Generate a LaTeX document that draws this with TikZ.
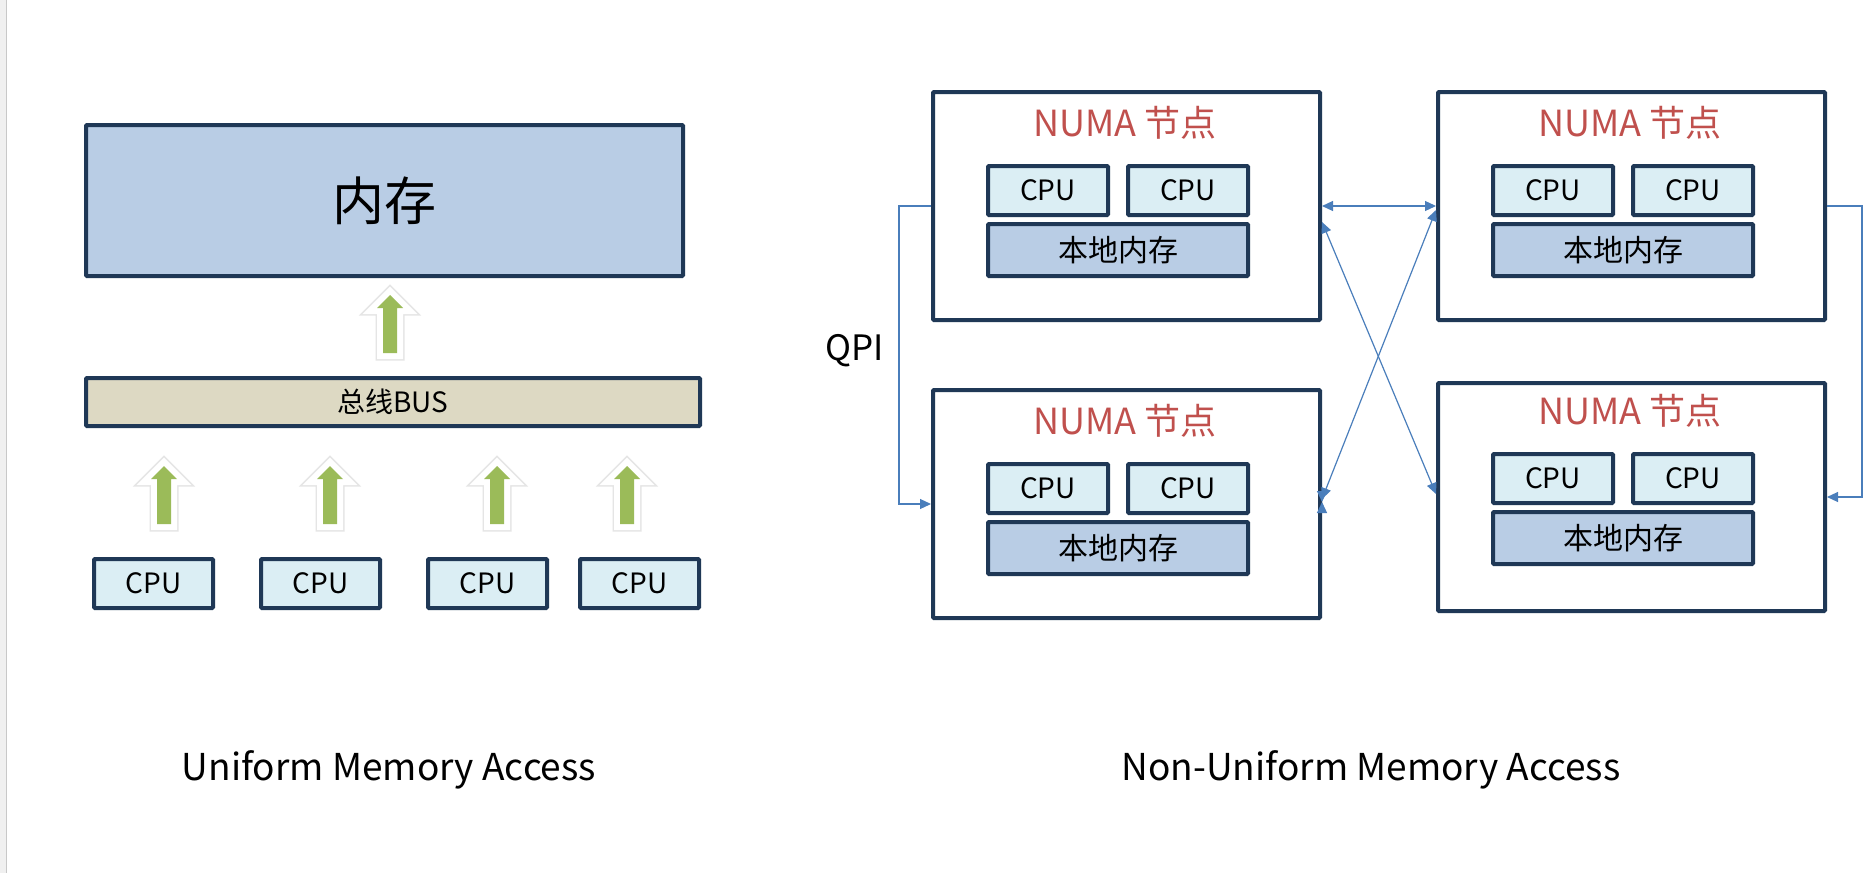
\documentclass[tikz,border=0pt]{standalone}
\usepackage{fontspec}
\setmainfont{Noto Sans CJK SC}
\usetikzlibrary{arrows.meta,calc}
\definecolor{navy}{HTML}{1F3856}
\definecolor{memblue}{HTML}{B9CDE5}
\definecolor{cpublue}{HTML}{DBEEF4}
\definecolor{busbeige}{HTML}{DDD9C3}
\definecolor{arrowgreen}{HTML}{9BBB59}
\definecolor{numared}{HTML}{C0504D}
\definecolor{linkblue}{HTML}{4A7EBB}
\definecolor{stripgray}{HTML}{F0F0F0}
\definecolor{stripline}{HTML}{C8C8C8}
\newcommand{\myfs}[1]{\fontsize{#1bp}{#1bp}\selectfont}
\begin{document}
\begin{tikzpicture}[x=1bp,y=-1bp,
  >={Triangle[length=11bp,width=10bp]},
  box/.style={draw=navy, line width=4bp, rounded corners=1bp, inner sep=0pt, anchor=north west},
  membox/.style={box, fill=memblue},
  cpubox/.style={box, fill=cpublue, font=\myfs{28}},
  busbox/.style={box, fill=busbeige, font=\myfs{28}},
  numabox/.style={box, fill=white},
  numatitle/.style={text=numared, font=\myfs{36}, inner sep=0pt},
  caption/.style={font=\myfs{37}, inner sep=0pt},
  link/.style={draw=linkblue, line width=1.2bp},
  uparrowpath/.style={insert path={(-7,0) -- (-7,-45) -- (-13,-45) -- (0,-58) -- (13,-45) -- (7,-45) -- (7,0) -- cycle}},
  greenup/.pic={
    \path[uparrowpath, draw=black!10, line width=15bp, shift={(1.5,3)}];
    \path[uparrowpath, draw=white, fill=white, line width=12bp];
    \path[uparrowpath, fill=arrowgreen];
  }]
\useasboundingbox (0,0) rectangle (1867,873);
\fill[white] (0,0) rectangle (1867,873);
\fill[stripgray] (0,0) rectangle (6,873);
\draw[stripline, line width=1.5bp] (6.5,0) -- (6.5,873);

% ---------- UMA ----------
\node[membox, minimum width=597bp, minimum height=151bp, font=\myfs{52}] (mem) at (84,123) {内存};
\pic at (390,353) {greenup};
\node[busbox, minimum width=614bp, minimum height=48bp] (bus) at (84,376) {总线BUS};
\foreach \i/\cx/\ax in {1/90/164,2/257/330,3/424/497,4/576/627}{
  \pic at (\ax,524) {greenup};
  \node[cpubox, minimum width=119bp, minimum height=49bp] (cpu\i) at (\cx+2,557) {CPU};
}
\node[caption] (umacap) at (389,770) {Uniform Memory Access};

% ---------- NUMA ----------
\foreach \n/\x/\y/\d in {tl/929/88/0,tr/1434/88/0,bl/929/386/0,br/1434/379/-3}{
  \node[numabox, minimum width=387bp, minimum height=228bp] (\n) at (\x+2,\y+2) {};
  \node[numatitle] (\n-t) at (\x+196,\y+35+\d) {NUMA 节点};
  \node[cpubox, minimum width=120bp, minimum height=49bp] (\n-c1) at (\x+57,\y+76+\d) {CPU};
  \node[cpubox, minimum width=120bp, minimum height=49bp] (\n-c2) at (\x+197,\y+76+\d) {CPU};
  \node[membox, minimum width=260bp, minimum height=52bp, font=\myfs{30}] (\n-m) at (\x+57,\y+134+\d) {本地内存};
}
\node[font=\myfs{35}, inner sep=0pt] (qpi) at (855,351) {QPI};
\draw[link, ->] (tl.west) -- ++(-32,0) |- (bl.west);
\draw[link, ->] (tr.east) -- ++(35,0) |- (br.east);
\draw[link, <->] (tl.east) -- (tr.west);
\draw[link, <->] ($(bl.east)+(0,-2)$) -- ($(bl.east)+(0,-2)$ -| br.west);
\draw[link, <->] ($(tl.east)+(0,16)$) -- ($(br.west)+(0,-3)$);
\draw[link, <->] ($(tr.west)+(0,4)$) -- ($(bl.east)+(0,-5)$);
\node[caption] (numacap) at (1371,770) {Non-Uniform Memory Access};
\end{tikzpicture}
\end{document}
